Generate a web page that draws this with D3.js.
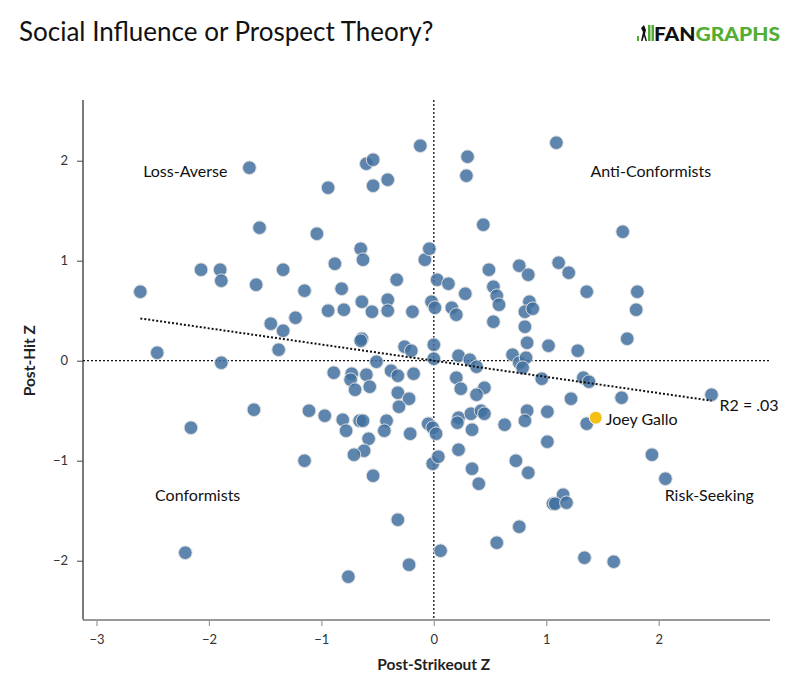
<!DOCTYPE html>
<html>
<head>
<meta charset="utf-8">
<title>Social Influence or Prospect Theory?</title>
<style>
  body { margin: 0; background: #fff; }
  svg text { font-family: Lato, "Open Sans", sans-serif; }
</style>
</head>
<body>
<div id="chart"></div>
<script src="https://d3js.org/d3.v7.min.js"></script>
<script>
    // post-strikeout z (x) and post-hit z (y), one entry per hitter
    var postStrikeoutZ = [
      -2.61, -2.46, -2.07, -1.90, -1.89, -1.89, -1.64, -1.58, -1.55, -1.45,
      -1.38, -1.34, -1.34, -1.23, -1.15, -1.04, -0.94, -0.94, -0.88, -0.82,
      -0.80, -0.65, -0.63, -0.64, -0.64, -0.65, -0.60, -0.54, -0.54, -0.55,
      -0.51, -0.41, -0.41, -0.41, -0.33, -0.26, -0.20, -0.19, -0.12, -0.08,
      -0.04, -0.02, 0.01, 0.00, 0.00, 0.03, 0.13, 0.16, 0.20, 0.22,
      0.28, 0.29, 0.30, 0.32, 0.44, 0.49, 0.53, 0.56, 0.58, 0.53,
      0.70, 0.76, 0.84, 0.85, 0.81, 0.88, 0.81, 0.83, 0.76, 0.82,
      0.79, 1.02, 1.09, 1.11, 1.20, 1.28, 1.36, 1.68, 1.72, 1.81,
      1.80, 0.38, -0.89, -0.73, -0.74, -0.60, -0.38, -0.32, -0.18, -0.57,
      -0.70, -0.32, -0.22, -0.31, -1.60, -1.11, -0.97, -0.81, -0.66, -0.63,
      -0.78, -0.42, -0.44, -0.21, -0.58, -2.16, -0.05, -0.01, 0.02, -0.62,
      -0.71, -1.15, -0.01, 0.04, -0.54, -0.32, -2.21, -0.22, -0.76, 0.06,
      0.20, 0.24, 0.45, 0.38, 0.22, 0.21, 0.33, 0.42, 0.45, 0.34,
      0.63, 0.22, 0.34, 0.40, 0.83, 0.81, 1.01, 1.01, 0.73, 0.84,
      0.76, 0.56, 0.96, 1.33, 1.38, 1.22, 1.67, 2.47, 1.36, 1.94,
      2.06, 1.15, 1.06, 1.08, 1.18, 1.34, 1.60
    ];
    var postHitZ = [
      0.69, 0.08, 0.91, 0.91, 0.80, -0.02, 1.93, 0.76, 1.33, 0.37,
      0.11, 0.91, 0.30, 0.43, 0.70, 1.27, 1.73, 0.50, 0.97, 0.72,
      0.51, 1.12, 1.01, 0.59, 0.22, 0.20, 1.97, 2.01, 1.75, 0.49,
      -0.01, 1.81, 0.61, 0.50, 0.81, 0.14, 0.10, 0.49, 2.15, 1.01,
      1.12, 0.59, 0.53, 0.16, 0.02, 0.81, 0.77, 0.53, 0.46, 0.05,
      0.67, 1.85, 2.04, 0.01, 1.36, 0.91, 0.74, 0.65, 0.56, 0.39,
      0.06, 0.95, 0.86, 0.59, 0.49, 0.52, 0.34, 0.18, -0.02, 0.03,
      -0.07, 0.15, 2.18, 0.98, 0.88, 0.10, 0.69, 1.29, 0.22, 0.69,
      0.51, -0.06, -0.12, -0.13, -0.19, -0.14, -0.10, -0.15, -0.13, -0.26,
      -0.29, -0.32, -0.38, -0.46, -0.49, -0.50, -0.55, -0.59, -0.60, -0.60,
      -0.70, -0.60, -0.70, -0.73, -0.78, -0.67, -0.63, -0.67, -0.73, -0.90,
      -0.94, -1.00, -1.03, -0.96, -1.15, -1.59, -1.92, -2.04, -2.16, -1.90,
      -0.17, -0.28, -0.27, -0.34, -0.57, -0.62, -0.53, -0.50, -0.53, -0.69,
      -0.64, -0.89, -1.08, -1.23, -0.50, -0.60, -0.51, -0.81, -1.00, -1.12,
      -1.66, -1.82, -0.18, -0.17, -0.21, -0.38, -0.37, -0.34, -0.63, -0.94,
      -1.18, -1.34, -1.43, -1.43, -1.42, -1.97, -2.01
    ];

    // highlighted player
    var highlightName = "Joey Gallo";
    var highlightX = 1.44, highlightY = -0.57;

    // least squares fit as printed on the chart
    var fitSlope = -0.162, fitIntercept = 0.0;
    var fitLabel = "R2 = .03";

    var xTicks = [-3, -2, -1, 0, 1, 2];
    var yTicks = [-2, -1, 0, 1, 2];

    var quadrantNames = ["Loss-Averse", "Anti-Conformists", "Conformists", "Risk-Seeking"];
    var quadrantX = [-2.21, 1.93, -2.10, 2.45];
    var quadrantY = [1.89, 1.89, -1.35, -1.35];

    var width = 800,
        height = 700;

    var svg = d3.select("#chart")
        .append("svg")
        .attr("width", width)
        .attr("height", height);

    var x = d3.scaleLinear()
        .domain([-3.12, 2.99])
        .range([83, 770]);

    var y = d3.scaleLinear()
        .domain([-2.587, 2.607])
        .range([619.4, 100]);

    var points = postStrikeoutZ.map(function(d, i) {
        return {x: d, y: postHitZ[i]};
    });

    // title + logo
    svg.append("text")
       .attr("x", 19)
       .attr("y", 41)
       .attr("font-size", "26px")
       .attr("fill", "#111")
       .text("Social Influence or Prospect Theory?");

    var logo = svg.append("g").attr("transform", "translate(637,22)");
    logo.append("rect").attr("x", 0).attr("y", 14).attr("width", 2).attr("height", 5).attr("fill", "#52ae32");
    logo.append("rect").attr("x", 11).attr("y", 3).attr("width", 2.5).attr("height", 16).attr("fill", "#52ae32");
    logo.append("rect").attr("x", 14.5).attr("y", 3).attr("width", 2.5).attr("height", 16).attr("fill", "#52ae32");
    logo.append("path")
        .attr("d", "M4,19 L6,10 L4,6 L7,3 L9,8 L8,12 L10,19 L8.5,19 L7,14 L5.5,19 Z")
        .attr("fill", "#111");
    logo.append("text")
        .attr("x", 17)
        .attr("y", 18.5)
        .attr("font-size", "19.5px")
        .attr("font-weight", "900")
        .attr("textLength", 126)
        .attr("lengthAdjust", "spacingAndGlyphs")
        .selectAll("tspan")
        .data([["FAN", "#111"], ["GRAPHS", "#52ae32"]])
        .enter().append("tspan")
        .attr("fill", function(d) { return d[1]; })
        .text(function(d) { return d[0]; });

    // axes
    var xAxis = d3.axisBottom(x).tickValues(xTicks).tickSize(6).tickFormat(d3.format("d"));
    var gx = svg.append("g")
       .attr("class", "x-axis")
       .attr("transform", "translate(0,620)")
       .call(xAxis);
    gx.select(".domain").attr("stroke", "#999").attr("stroke-width", 2)
      .attr("d", "M" + x.range()[0] + ",0H" + x.range()[1]);
    gx.selectAll(".tick line").attr("stroke", "#999").attr("stroke-width", 1.2);
    gx.selectAll(".tick text").attr("font-size", "13px").attr("fill", "#333")
      .attr("dy", "1.15em").attr("font-family", "Lato");

    var yAxis = d3.axisLeft(y).tickValues(yTicks).tickSize(6).tickFormat(d3.format("d"));
    var gy = svg.append("g")
       .attr("class", "y-axis")
       .attr("transform", "translate(83,0)")
       .call(yAxis);
    gy.select(".domain").attr("stroke", "#222").attr("stroke-width", 1.2)
      .attr("d", "M0," + y.range()[1] + "V" + y.range()[0]);
    gy.selectAll(".tick line").attr("stroke", "#444");
    gy.selectAll(".tick text").attr("font-size", "13px").attr("fill", "#333")
      .attr("x", -15).attr("font-family", "Lato");

    svg.append("text")
       .attr("x", x(0))
       .attr("y", 670)
       .attr("text-anchor", "middle")
       .attr("font-size", "15.5px")
       .attr("font-weight", "bold")
       .attr("fill", "#222")
       .text("Post-Strikeout Z");

    svg.append("text")
       .attr("transform", "translate(35," + y(0) + ") rotate(-90)")
       .attr("text-anchor", "middle")
       .attr("font-size", "15.5px")
       .attr("font-weight", "bold")
       .attr("fill", "#222")
       .text("Post-Hit Z");

    // zero lines
    svg.append("line")
       .attr("x1", x.range()[0]).attr("x2", x.range()[1])
       .attr("y1", y(0)).attr("y2", y(0))
       .attr("stroke", "#111").attr("stroke-width", 1.3)
       .attr("stroke-dasharray", "2,2");
    svg.append("line")
       .attr("x1", x(0)).attr("x2", x(0))
       .attr("y1", y.range()[1]).attr("y2", y.range()[0])
       .attr("stroke", "#111").attr("stroke-width", 1.3)
       .attr("stroke-dasharray", "2,2");

    // quadrant labels
    svg.append("g")
       .selectAll("text")
       .data(quadrantNames)
       .enter().append("text")
       .attr("x", function(d, i) { return x(quadrantX[i]); })
       .attr("y", function(d, i) { return y(quadrantY[i]); })
       .attr("dy", "0.35em")
       .attr("text-anchor", "middle")
       .attr("font-size", "16px")
       .attr("fill", "#111")
       .text(function(d) { return d; });

    // points
    svg.append("g")
       .attr("class", "points")
       .selectAll("circle")
       .data(points)
       .enter().append("circle")
       .attr("cx", function(d) { return x(d.x); })
       .attr("cy", function(d) { return y(d.y); })
       .attr("r", 6.8)
       .attr("fill", "#41709f")
       .attr("fill-opacity", 0.85)
       .attr("stroke", "#dcdcdc")
       .attr("stroke-width", 1);

    // fit line over the data range
    var xExtent = d3.extent(postStrikeoutZ);
    svg.append("line")
       .attr("x1", x(xExtent[0])).attr("y1", y(fitIntercept + fitSlope * xExtent[0]))
       .attr("x2", x(xExtent[1])).attr("y2", y(fitIntercept + fitSlope * xExtent[1]))
       .attr("stroke", "#111").attr("stroke-width", 2)
       .attr("stroke-dasharray", "2,2");

    svg.append("text")
       .attr("x", x(xExtent[1]) + 8)
       .attr("y", y(fitIntercept + fitSlope * xExtent[1]) + 5)
       .attr("dy", "0.35em")
       .attr("font-size", "16px")
       .attr("fill", "#111")
       .text(fitLabel);

    // highlight
    svg.append("circle")
       .attr("cx", x(highlightX))
       .attr("cy", y(highlightY))
       .attr("r", 6.5)
       .attr("fill", "#f5c014")
       .attr("stroke", "#fff")
       .attr("stroke-width", 1);

    svg.append("text")
       .attr("x", x(highlightX) + 10)
       .attr("y", y(highlightY) + 2)
       .attr("dy", "0.35em")
       .attr("font-size", "16px")
       .attr("fill", "#111")
       .text(highlightName);
</script>
</body>
</html>
